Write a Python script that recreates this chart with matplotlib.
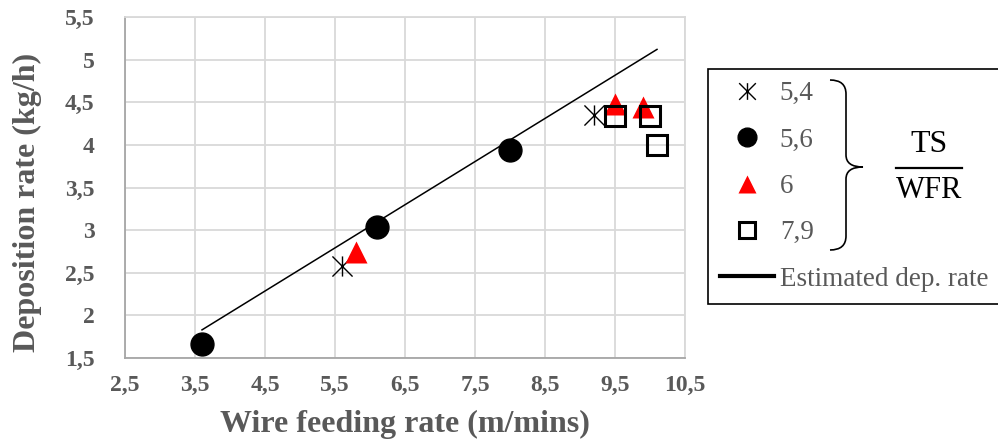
import matplotlib.pyplot as plt
from matplotlib.path import Path
from matplotlib.lines import Line2D
from matplotlib.patches import PathPatch

plt.rcParams['font.family'] = ['Liberation Serif', 'DejaVu Serif']

# data (TS/WFR groups)
x_54 = [5.6, 9.2]
y_54 = [2.58, 4.35]
x_56 = [3.6, 6.1, 8.0]
y_56 = [1.66, 3.04, 3.94]
x_6 = [5.8, 9.5, 9.9]
y_6 = [2.74, 4.48, 4.45]
x_79 = [9.5, 10.0, 10.1]
y_79 = [4.34, 4.34, 4.0]
est_x = [3.6, 10.1]
est_y = [1.83, 5.12]

group_labels = ["5,4", "5,6", "6", "7,9"]
line_label = "Estimated dep. rate"
x_ticks = [2.5, 3.5, 4.5, 5.5, 6.5, 7.5, 8.5, 9.5, 10.5]
x_ticklabels = ["2,5", "3,5", "4,5", "5,5", "6,5", "7,5", "8,5", "9,5", "10,5"]
y_ticks = [1.5, 2, 2.5, 3, 3.5, 4, 4.5, 5, 5.5]
y_ticklabels = ["1,5", "2", "2,5", "3", "3,5", "4", "4,5", "5", "5,5"]

gray_txt = "#595959"
grid_c = "#d9d9d9"

# excel style star: X with a vertical bar
star = Path([(-1, -1), (1, 1), (-1, 1), (1, -1), (0, -1), (0, 1)],
            [Path.MOVETO, Path.LINETO, Path.MOVETO, Path.LINETO, Path.MOVETO, Path.LINETO])

W, H = 998, 446
fig = plt.figure(figsize=(W / 100, H / 100), dpi=100)
ax = fig.add_axes([125 / W, 1 - 358 / H, 560 / W, 341 / H])

ax.plot(est_x, est_y, color='black', lw=1.1, zorder=2)
ax.plot(x_54, y_54, ls='none', marker=star, ms=14.5, mfc='none', mec='black', mew=1.0, zorder=3)
ax.plot(x_56, y_56, ls='none', marker='o', ms=16.5, color='black', zorder=3)
ax.plot(x_6, y_6, ls='none', marker='^', ms=16.5, color='red', mec='none', zorder=3)
ax.plot(x_79, y_79, ls='none', marker='s', ms=14.5, mfc='none', mec='black', mew=2.2, zorder=4)

ax.set_xlim(2.5, 10.5)
ax.set_ylim(1.5, 5.5)
ax.set_xticks(x_ticks)
ax.set_xticklabels(x_ticklabels)
ax.set_yticks(y_ticks)
ax.set_yticklabels(y_ticklabels)
ax.tick_params(length=0, labelsize=17, labelcolor=gray_txt)
ax.tick_params(axis='x', pad=12)
ax.tick_params(axis='y', pad=22)
for lab in ax.get_xticklabels() + ax.get_yticklabels():
    lab.set_fontweight('bold')
ax.grid(True, color=grid_c, lw=1.3)
ax.set_axisbelow(True)
for s in ['top', 'right']:
    ax.spines[s].set_color(grid_c)
    ax.spines[s].set_linewidth(1.3)
for s in ['left', 'bottom']:
    ax.spines[s].set_color('#a6a6a6')
    ax.spines[s].set_linewidth(1.3)

ax.set_xlabel("Wire feeding rate (m/mins)", fontsize=23, fontweight='bold', color=gray_txt)
ax.set_ylabel("Deposition rate (kg/h)", fontsize=23, fontweight='bold', color=gray_txt)
ax.xaxis.set_label_coords(0.5, -0.152)
ax.yaxis.set_label_coords(-0.148, 0.455)

# legend with proxy handles
handles = [
    Line2D([], [], ls='none', marker=star, ms=12, mfc='none', mec='black', mew=1.0),
    Line2D([], [], ls='none', marker='o', ms=13.5, color='black'),
    Line2D([], [], ls='none', marker='^', ms=13.5, color='red', mec='none'),
    Line2D([], [], ls='none', marker='s', ms=11.5, mfc='none', mec='black', mew=2.2),
    Line2D([], [], color='black', lw=3),
]
leg = fig.legend(handles, group_labels + [line_label], loc='upper left',
                 bbox_to_anchor=(708 / W, 1 - 69 / H), bbox_transform=fig.transFigure,
                 borderaxespad=0, fontsize=19.5, labelcolor=gray_txt, fancybox=False,
                 edgecolor='black', framealpha=1, handlelength=2.0, handletextpad=0.2,
                 labelspacing=0.79, borderpad=0.45)
leg.get_frame().set_linewidth(1.2)

# curly brace + TS/WFR fraction
def px(x, y):
    return (x / W, 1 - y / H)

bx0, bx1, bx2 = 830, 846, 863
yt, ym, yb = 80, 167, 250
verts = [px(bx0, yt), px(bx1, yt), px(bx1, yt + 14),
         px(bx1, ym - 12),
         px(bx1, ym), px(bx2, ym),
         px(bx1, ym), px(bx1, ym + 12),
         px(bx1, yb - 14),
         px(bx1, yb), px(bx0, yb)]
codes = [Path.MOVETO, Path.CURVE3, Path.CURVE3,
         Path.LINETO,
         Path.CURVE3, Path.CURVE3,
         Path.CURVE3, Path.CURVE3,
         Path.LINETO,
         Path.CURVE3, Path.CURVE3]
fig.add_artist(PathPatch(Path(verts, codes), fc='none', ec='black', lw=1.2,
                         transform=fig.transFigure, zorder=10))

fig.text(929 / W, 1 - 145 / H, "TS", fontsize=23, ha='center', va='center', color='black', zorder=10)
fig.add_artist(Line2D([896 / W, 962 / W], [1 - 168 / H, 1 - 168 / H], color='black', lw=1.6,
                      transform=fig.transFigure, zorder=10))
fig.text(929 / W, 1 - 191 / H, "WFR", fontsize=22, ha='center', va='center', color='black', zorder=10)

fig.savefig("out.png", dpi=100)
